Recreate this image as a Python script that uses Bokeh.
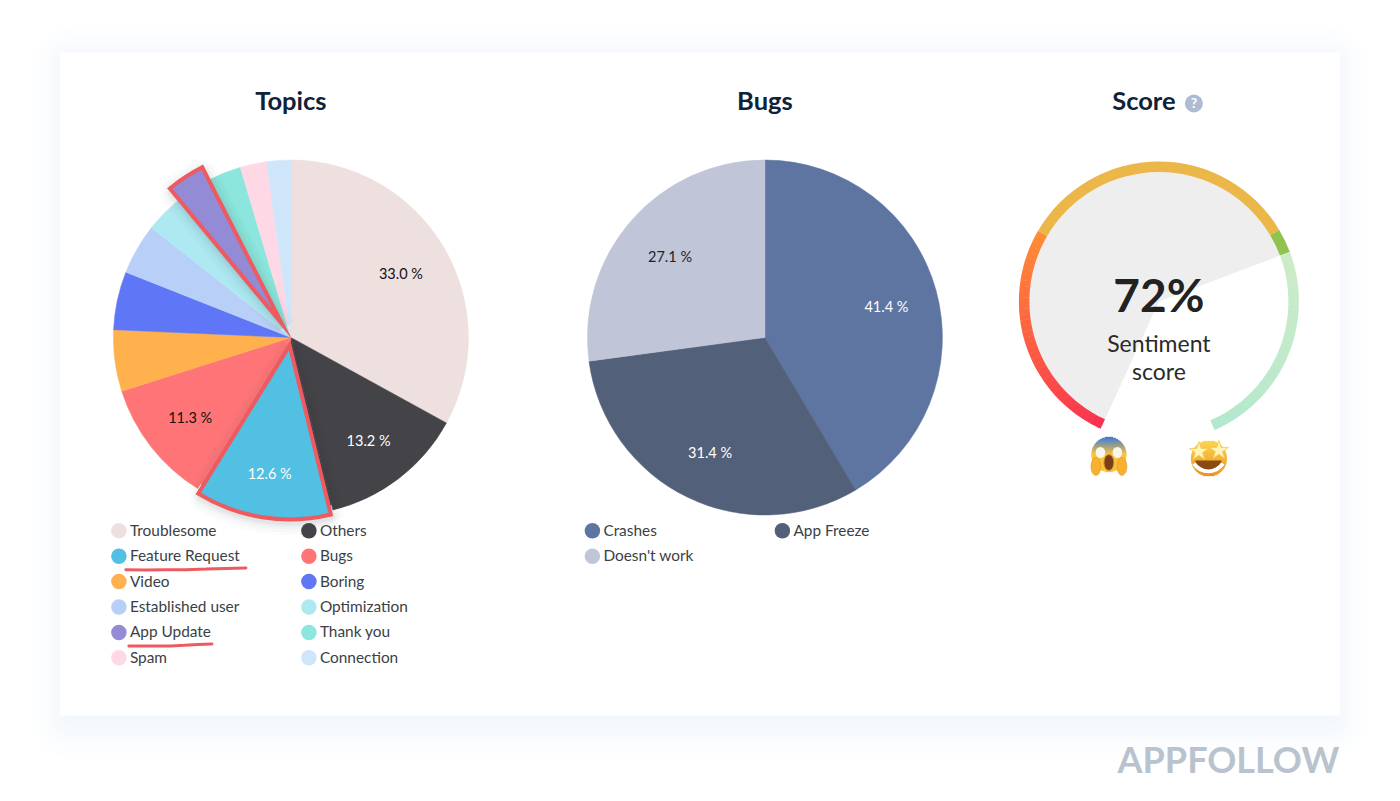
import math
from bokeh.plotting import figure
from bokeh.models import Range1d, ColumnDataSource
from bokeh.core.properties import value
from bokeh.embed import file_html
from bokeh.resources import INLINE

topic_names = ["Troublesome", "Others", "Feature Request", "Bugs", "Video", "Boring",
               "Established user", "Optimization", "App Update", "Thank you", "Spam", "Connection"]
topic_values = [33.0, 13.2, 12.6, 11.3, 5.6, 5.3, 4.6, 3.4, 3.5, 2.9, 2.4, 2.2]
topic_colors = ["#EDE0DF", "#444348", "#52C0E2", "#FF7577", "#FFB14D", "#5F77F6",
                "#B8D0F8", "#AEE9F2", "#948BD6", "#8CE6DD", "#FFD8E6", "#CFE6FA"]
topic_label_colors = {"Troublesome": "#111111", "Others": "#FFFFFF", "Feature Request": "#FFFFFF", "Bugs": "#111111"}
topic_highlight = ["Feature Request", "App Update"]

bug_names = ["Crashes", "App Freeze", "Doesn't work"]
bug_values = [41.4, 31.4, 27.1]
bug_colors = ["#5E75A2", "#526079", "#C1C5D8"]
bug_label_colors = ["#FFFFFF", "#FFFFFF", "#222222"]

score_value = 72
score_segments = [(0, 30.7, "grad"), (30.7, 68.8, "#EBB748"), (68.8, 72, "#90C24E"), (72, 100, "light")]

W, H = 1400, 801
p = figure(width=W - 16, height=H - 16, x_range=Range1d(0.6, W - 16 + 0.6), y_range=Range1d(16, H),
           output_backend="svg", toolbar_location=None, x_axis_location=None, y_axis_location=None,
           min_border=0, outline_line_color=None, background_fill_color="#FFFFFF", border_fill_color="#FFFFFF")
p.grid.visible = False


def Y(y):
    return H - y


def math_angle(cw):
    return math.radians(90 - cw)


def lerp_color(c0, c1, t):
    return "#" + "".join(f"{round(a + (b - a) * t):02X}" for a, b in zip(c0, c1))


FONT = value("Lato")


def label(x, y, text, size, color, align="center", style="normal"):
    p.text([x], [Y(y)], text=[text], text_font=FONT, text_font_size=f"{size}px", text_color=color,
           text_align=align, text_baseline="middle", text_font_style=style)


# card and its soft shadow
SHADOW_STEPS = 40
for m in range(SHADOW_STEPS, -1, -1):
    t = (1 - m / SHADOW_STEPS) ** 1.3
    col = lerp_color((255, 255, 255), (242, 247, 252), t)
    p.quad(left=[68 - m], right=[1332 + m], bottom=[Y(719 + m * 1.1)], top=[Y(62 - m)],
           fill_color=col, line_color=None, border_radius=int(4 + m))
p.quad(left=[60], right=[1340], bottom=[Y(715)], top=[Y(52)], fill_color="#FFFFFF", line_color=None, border_radius=3)


def pie(cx, cy, r, names, values, colors, explode):
    total = sum(values)
    cw = 0.0
    later = []
    out = []
    for i, (n, v, c) in enumerate(zip(names, values, colors)):
        a0, a1 = cw, cw + v / total * 360
        cw = a1
        mid_deg = (a0 + a1) / 2
        mid = math.radians(mid_deg)
        d, rr = explode.get(n, (0, r))
        ox, oy = d * math.sin(mid), -d * math.cos(mid)
        out.append((n, v, mid, ox, oy))
        args = (cx + ox, cy + oy, rr, a0, a1, c)
        if d:
            later.append(args)
            # neighbours close the gap that the pulled-out slice leaves behind it
            for s, e, nc in [(a0, mid_deg, colors[i - 1]), (mid_deg, a1, colors[i + 1])]:
                p.wedge([cx], [Y(cy)], radius=r * 0.97, start_angle=math_angle(s), end_angle=math_angle(e),
                        direction="clock", fill_color=nc, line_color=nc, line_width=0.5)
        else:
            p.wedge([args[0]], [Y(args[1])], radius=rr, start_angle=math_angle(a0), end_angle=math_angle(a1),
                    direction="clock", fill_color=c, line_color=c, line_width=0.5)
    for x, y, rr, a0, a1, c in later:
        for w, al in [(26, 0.015), (20, 0.02), (14, 0.025), (9, 0.03), (5, 0.04)]:
            p.wedge([x + 1], [Y(y + 3)], radius=rr, start_angle=math_angle(a0), end_angle=math_angle(a1),
                    direction="clock", fill_color=None, line_color="#1A2A3A", line_alpha=al, line_width=w)
    for x, y, rr, a0, a1, c in later:
        p.wedge([x], [Y(y)], radius=rr, start_angle=math_angle(a0), end_angle=math_angle(a1),
                direction="clock", fill_color=c, line_color="#EE5A5F", line_width=4, line_join="miter")
    return out


LABEL_SIZE = 14.5

# Topics pie
tcx, tcy, tr = 291, 337, 177.5
parts = pie(tcx, tcy, tr, topic_names, topic_values, topic_colors,
            {"Feature Request": (8, 174), "App Update": (16, 176)})
for n, v, mid, ox, oy in parts:
    if v >= 10:
        lr = tr * 0.72
        label(tcx + ox + lr * math.sin(mid), tcy + oy - lr * math.cos(mid) + 1.5, f"{v:.1f} %", LABEL_SIZE,
              topic_label_colors[n])

# Bugs pie
bcx, bcy, br = 765, 337, 177.5
parts = pie(bcx, bcy, br, bug_names, bug_values, bug_colors, {})
for (n, v, mid, ox, oy), lc in zip(parts, bug_label_colors):
    lr = br * 0.71
    label(bcx + lr * math.sin(mid), bcy - lr * math.cos(mid) + 2, f"{v:.1f} %", LABEL_SIZE, lc)

# Titles
title_color = "#0E2238"
label(291, 99.5, "Topics", 25.5, title_color, style="bold")
label(765, 99.5, "Bugs", 25.5, title_color, style="bold")
label(1144, 99.5, "Score", 25.5, title_color, style="bold")
p.scatter([1194], [Y(103)], size=18, marker="circle", fill_color="#AEBBD2", line_color=None)
label(1194, 102, "?", 14, "#FFFFFF", style="bold")


# Legends
def legend(names, colors, x0, x1, y0=530.3, dy=25.4):
    xs = [x0 if i % 2 == 0 else x1 for i in range(len(names))]
    ys = [Y(y0 + dy * (i // 2)) for i in range(len(names))]
    p.scatter(xs, ys, size=15.5, marker="circle", fill_color=colors, line_color=None)
    src = ColumnDataSource(dict(x=[v + 11 for v in xs], y=[v + 1 for v in ys], t=names))
    p.text("x", "y", text="t", source=src, text_font=FONT, text_font_size="15.4px", text_color="#3B3F46",
           text_align="left", text_baseline="middle")


legend(topic_names, topic_colors, 119, 309)
legend(bug_names, bug_colors, 592.5, 782.5)

# Hand-drawn underlines below highlighted legend rows
uw = {"Feature Request": (126, 246), "App Update": (129, 212)}
for n in topic_highlight:
    row = topic_names.index(n) // 2
    ry = 530.3 + 25.4 * row
    a, b = uw[n]
    xs = [a + (b - a) * t / 6 for t in range(7)]
    bow = [1.5, 1.7, 1.6, 1.5, 0.9, 0.2, -0.3]
    p.line(xs, [Y(ry + 12 + d) for d in bow], line_color="#EE5A5F", line_width=3, line_cap="round")

# Score gauge
gx, gy, gro, gri = 1159, 301, 140, 129.5
g_start, g_span = 204.6, 312.0


def gauge_angle(pct):
    return g_start + g_span * pct / 100


p.wedge([gx], [Y(gy)], radius=gri + 1, start_angle=math_angle(gauge_angle(0)),
        end_angle=math_angle(gauge_angle(score_value)), direction="clock", fill_color="#EEEEEE", line_color=None)

ramps = {"grad": [(249, 48, 80), (255, 140, 52)], "light": [(205, 235, 200), (178, 232, 204)]}
for s0, s1, col in score_segments:
    steps = 40 if col in ramps else 1
    for k in range(steps):
        a = s0 + (s1 - s0) * k / steps
        b = s0 + (s1 - s0) * (k + 1) / steps
        c = lerp_color(*ramps[col], (k + 0.5) / steps) if col in ramps else col
        p.annular_wedge([gx], [Y(gy)], inner_radius=gri, outer_radius=gro, start_angle=math_angle(gauge_angle(a)),
                        end_angle=math_angle(gauge_angle(b + (0.05 if k < steps - 1 else 0))), direction="clock",
                        fill_color=c, line_color=None)

label(1159, 294, f"{score_value}%", 46, "#222222", style="bold")
label(1159, 342, "Sentiment", 23, "#2A2A2A")
label(1159, 370, "score", 23, "#2A2A2A")

# Emoji: screaming face
ex, ey, er = 1109, 454, 17.5
for row in range(-18, 19):
    t = (row + 18) / 36
    col = lerp_color((50, 120, 225), (250, 195, 60), min(1, t / 0.5))
    hw = math.sqrt(max(er * er - row * row, 0))
    p.segment([ex - hw], [Y(ey + row)], [ex + hw], [Y(ey + row)], line_color=col, line_width=1.3)
p.ellipse([1100.5, 1117.5], [Y(452)] * 2, width=[9.5, 9.5], height=[11, 11], fill_color="#F7F5EE", line_color=None)
p.ellipse([1109], [Y(462)], width=10, height=16, fill_color="#7A3E1A", line_color="#E0942C", line_width=1)
p.ellipse([1096, 1122], [Y(466)] * 2, width=[10, 10], height=[18, 18], fill_color="#F8B02F", line_color="#E58E1E",
          line_width=0.5)

# Emoji: star-struck face
sx, sy, sr = 1209, 458, 18
for row in range(-18, 19):
    t = (row + 18) / 36
    col = lerp_color((252, 214, 80), (236, 148, 30), t)
    hw = math.sqrt(max(sr * sr - row * row, 0))
    p.segment([sx - hw], [Y(sy + row)], [sx + hw], [Y(sy + row)], line_color=col, line_width=1.3)
p.wedge([sx - 0.5], [Y(460)], radius=13, start_angle=math.pi, end_angle=0, direction="anticlock",
        fill_color="#8A4A14", line_color=None)
p.annular_wedge([sx - 0.5], [Y(454)], inner_radius=15, outer_radius=19, start_angle=math.radians(212),
                end_angle=math.radians(328), direction="anticlock", fill_color="#FFFFFF", line_color=None)
p.scatter([1199, 1219], [Y(451), Y(450)], size=20, marker="star", fill_color="#FFF3B8", line_color="#F3C64E",
          line_width=0.8)

# Watermark
label(1228.5, 758, "APPFOLLOW", 36, "#B9C3CD", style="bold")

open("out.html", "w").write(file_html(p, INLINE))
